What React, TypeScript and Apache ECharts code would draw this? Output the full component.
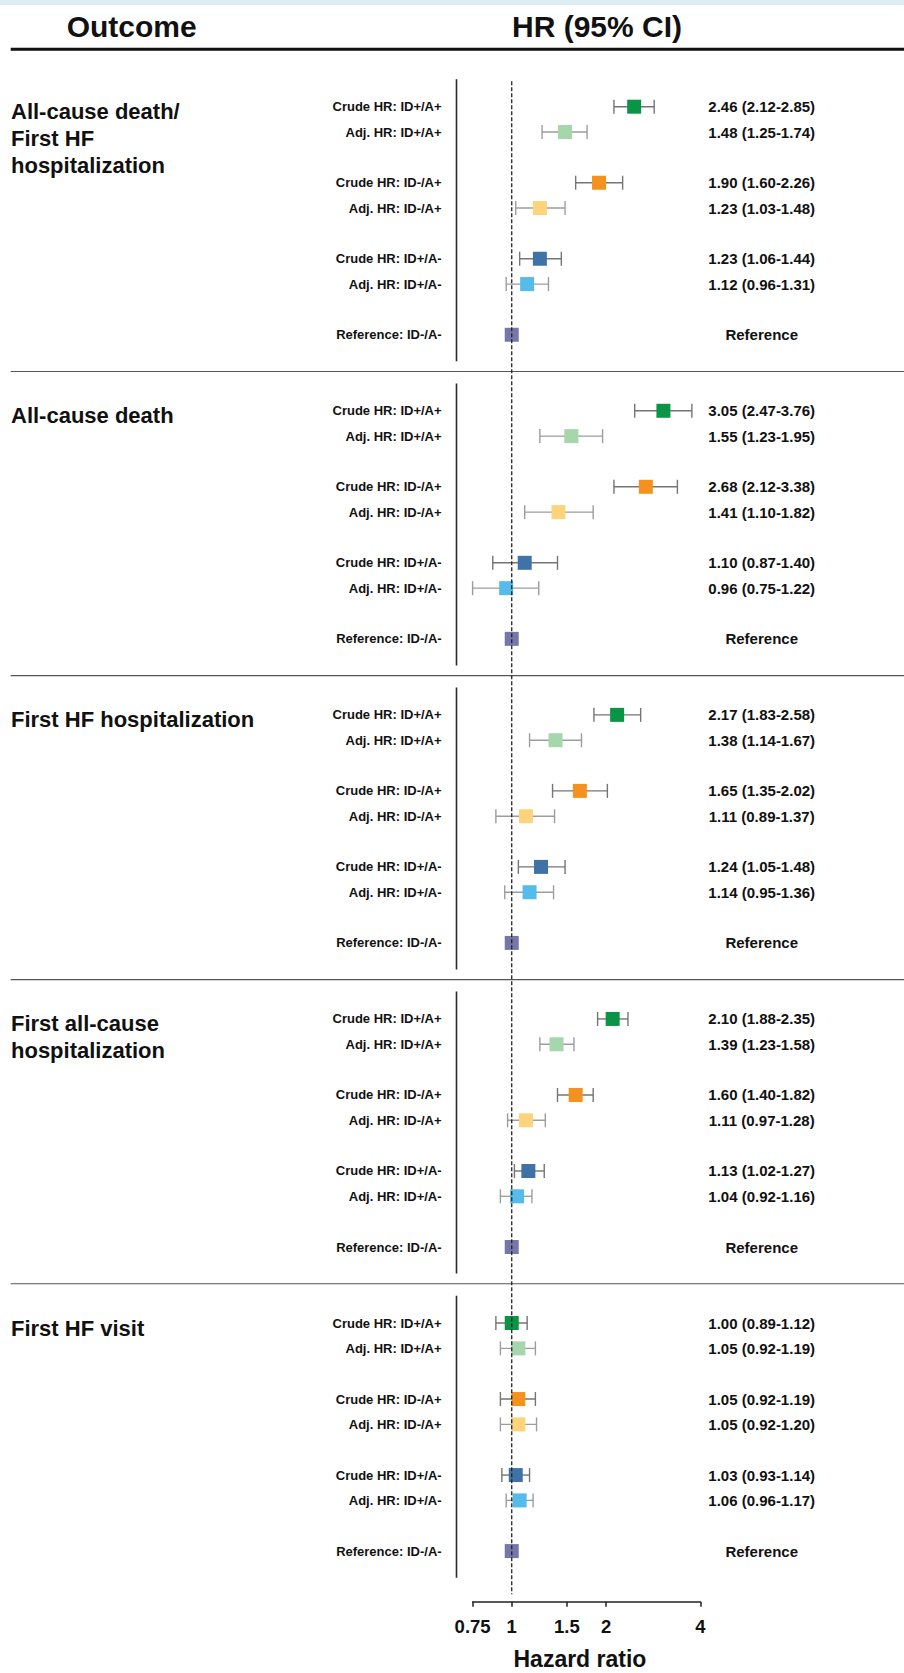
import React, { useEffect, useRef } from "react";
import * as echarts from "echarts";

// ---------- DATA ----------
const outcomes = [
  "All-cause death/\nFirst HF\nhospitalization",
  "All-cause death",
  "First HF hospitalization",
  "First all-cause\nhospitalization",
  "First HF visit",
];

const rowLabels = [
  "Crude HR: ID+/A+",
  "Adj. HR: ID+/A+",
  "Crude HR: ID-/A+",
  "Adj. HR: ID-/A+",
  "Crude HR: ID+/A-",
  "Adj. HR: ID+/A-",
  "Reference: ID-/A-",
];
// slot of each row inside an outcome block (blank slots separate the pairs)
const rowSlots = [0, 1, 3, 4, 6, 7, 9];
const slotsPerOutcome = 12;
const rowIsCrude = [true, false, true, false, true, false, false];

// HR, lower and upper 95% CI for the six comparison rows of each outcome
const hrDeathOrHF = [2.46, 1.48, 1.9, 1.23, 1.23, 1.12];
const loDeathOrHF = [2.12, 1.25, 1.6, 1.03, 1.06, 0.96];
const hiDeathOrHF = [2.85, 1.74, 2.26, 1.48, 1.44, 1.31];

const hrDeath = [3.05, 1.55, 2.68, 1.41, 1.1, 0.96];
const loDeath = [2.47, 1.23, 2.12, 1.1, 0.87, 0.75];
const hiDeath = [3.76, 1.95, 3.38, 1.82, 1.4, 1.22];

const hrHFHosp = [2.17, 1.38, 1.65, 1.11, 1.24, 1.14];
const loHFHosp = [1.83, 1.14, 1.35, 0.89, 1.05, 0.95];
const hiHFHosp = [2.58, 1.67, 2.02, 1.37, 1.48, 1.36];

const hrAllHosp = [2.1, 1.39, 1.6, 1.11, 1.13, 1.04];
const loAllHosp = [1.88, 1.23, 1.4, 0.97, 1.02, 0.92];
const hiAllHosp = [2.35, 1.58, 1.82, 1.28, 1.27, 1.16];

const hrHFVisit = [1.0, 1.05, 1.05, 1.05, 1.03, 1.06];
const loHFVisit = [0.89, 0.92, 0.92, 0.92, 0.93, 0.96];
const hiHFVisit = [1.12, 1.19, 1.19, 1.2, 1.14, 1.17];

const referenceHR = 1;
const referenceText = "Reference";

const xTickValues = [0.75, 1, 1.5, 2, 4];
const xTickLabels = ["0.75", "1", "1.5", "2", "4"];
const xMin = 0.75;
const xMax = 4;

// ---------- STYLE ----------
const rowColors = ["#0a9445", "#a6d6ab", "#f5911f", "#fdd37c", "#3f73a7", "#55bbe9", "#7876a8"];
const FONT = "'Liberation Sans', Arial, Helvetica, sans-serif";
const INK = "#111111";

const GRID_LEFT = 472.6;
const GRID_WIDTH = 227.7;
const UNIT = 25.34;
const Y_MIN = -1;
const Y_MAX = 59;
const GRID_TOP = 106.7 - UNIT;

const estSets = [hrDeathOrHF, hrDeath, hrHFHosp, hrAllHosp, hrHFVisit];
const loSets = [loDeathOrHF, loDeath, loHFHosp, loAllHosp, loHFVisit];
const hiSets = [hiDeathOrHF, hiDeath, hiHFHosp, hiAllHosp, hiHFVisit];

const fmt = (v: number) => v.toFixed(2);

export default function App() {
  const ref = useRef<HTMLDivElement>(null);

  useEffect(() => {
    if (!ref.current) return;
    const chart = echarts.init(ref.current, null, { renderer: "svg" });

    const leftLabelMap: Record<number, string> = {};
    const rightLabelMap: Record<number, string> = {};
    const barData: any[] = [];
    const pointData: any[] = [];

    outcomes.forEach((_, p) => {
      rowLabels.forEach((label, r) => {
        const slot = p * slotsPerOutcome + rowSlots[r];
        leftLabelMap[slot] = label;
        if (r < 6) {
          const est = estSets[p][r];
          const lo = loSets[p][r];
          const hi = hiSets[p][r];
          rightLabelMap[slot] = `${fmt(est)} (${fmt(lo)}-${fmt(hi)})`;
          barData.push([Math.log(lo), Math.log(hi), slot, rowIsCrude[r] ? 1 : 0]);
          pointData.push({ value: [Math.log(est), slot], itemStyle: { color: rowColors[r] } });
        } else {
          rightLabelMap[slot] = referenceText;
          pointData.push({ value: [Math.log(referenceHR), slot], itemStyle: { color: rowColors[r] } });
        }
      });
    });

    const tickLogs = xTickValues.map((v) => Math.log(v));

    const option: any = {
      animation: false,
      backgroundColor: "#ffffff",
      textStyle: { fontFamily: FONT },
      grid: {
        left: GRID_LEFT,
        width: GRID_WIDTH,
        top: GRID_TOP,
        height: (Y_MAX - Y_MIN) * UNIT,
        containLabel: false,
        outerBoundsMode: "none",
      },
      xAxis: {
        type: "value",
        position: "bottom",
        min: Math.log(xMin),
        max: Math.log(xMax),
        axisLine: { show: true, onZero: false, lineStyle: { color: "#222", width: 1.5 } },
        axisTick: { show: true, length: 5, inside: false, customValues: tickLogs, lineStyle: { color: "#222", width: 1.5 } },
        splitLine: { show: false },
        axisLabel: {
          customValues: tickLogs,
          margin: 15,
          fontSize: 18.5,
          fontWeight: "bold",
          fontFamily: FONT,
          color: INK,
          formatter: (v: number) => {
            let best = 0;
            tickLogs.forEach((t, i) => {
              if (Math.abs(t - v) < Math.abs(tickLogs[best] - v)) best = i;
            });
            return xTickLabels[best];
          },
        },
        name: "Hazard ratio",
        nameLocation: "middle",
        nameGap: 46,
        nameTextStyle: { fontSize: 23, fontWeight: "bold", color: INK, fontFamily: FONT, padding: [0, 13, 0, 0] },
      },
      yAxis: [
        {
          type: "value",
          inverse: true,
          position: "left",
          min: Y_MIN,
          max: Y_MAX,
          interval: 1,
          axisLine: { show: false, onZero: false },
          axisTick: { show: false },
          splitLine: { show: false },
          axisLabel: {
            margin: 31,
            fontSize: 13,
            fontWeight: "bold",
            fontFamily: FONT,
            color: INK,
            formatter: (v: number) => leftLabelMap[Math.round(v)] ?? "",
          },
        },
        {
          type: "value",
          inverse: true,
          position: "right",
          min: Y_MIN,
          max: Y_MAX,
          interval: 1,
          axisLine: { show: false, onZero: false },
          axisTick: { show: false },
          splitLine: { show: false },
          axisLabel: {
            margin: 61.4,
            align: "center",
            fontSize: 15,
            fontWeight: "bold",
            fontFamily: FONT,
            color: INK,
            formatter: (v: number) => rightLabelMap[Math.round(v)] ?? "",
          },
        },
      ],
      series: [
        {
          type: "custom",
          name: "95% CI",
          z: 2,
          data: barData,
          encode: { x: [0, 1], y: 2 },
          renderItem: (params: any, api: any) => {
            const a = api.coord([api.value(0), api.value(2)]);
            const b = api.coord([api.value(1), api.value(2)]);
            const cap = 7;
            const stroke = api.value(3) ? "#757575" : "#9d9d9d";
            const style = { stroke, lineWidth: 1.4 };
            return {
              type: "group",
              children: [
                { type: "line", shape: { x1: a[0], y1: a[1], x2: b[0], y2: b[1] }, style },
                { type: "line", shape: { x1: a[0], y1: a[1] - cap, x2: a[0], y2: a[1] + cap }, style },
                { type: "line", shape: { x1: b[0], y1: b[1] - cap, x2: b[0], y2: b[1] + cap }, style },
              ],
            };
          },
        },
        {
          type: "scatter",
          name: "HR",
          z: 3,
          symbol: "rect",
          symbolSize: 14,
          itemStyle: { opacity: 1 },
          data: pointData,
        },
        {
          type: "line",
          name: "HR = 1",
          z: 4,
          symbol: "none",
          silent: true,
          data: [
            [Math.log(referenceHR), Y_MIN],
            [Math.log(referenceHR), Y_MAX - 0.3],
          ],
          lineStyle: { color: "#222", width: 1.3, type: [4, 2] },
        },
      ],
    };

    chart.setOption(option);

    const yPix = (u: number) => chart.convertToPixel({ gridIndex: 0 }, [0, u])[1] as number;
    const vLineX = 456.5;
    const graphics: any[] = [
      { type: "rect", shape: { x: 0, y: 0, width: 904, height: 5 }, style: { fill: "#dcedf3" }, silent: true },
      {
        type: "text",
        x: 131.7,
        y: 26.7,
        style: { text: "Outcome", fontSize: 30, fontWeight: "bold", fontFamily: FONT, fill: INK, align: "center", verticalAlign: "middle", textAlign: "center", textVerticalAlign: "middle" },
      },
      {
        type: "text",
        x: 597,
        y: 26.7,
        style: { text: "HR (95% CI)", fontSize: 30, fontWeight: "bold", fontFamily: FONT, fill: INK, align: "center", verticalAlign: "middle", textAlign: "center", textVerticalAlign: "middle" },
      },
      { type: "line", shape: { x1: 10.7, y1: 49.2, x2: 904, y2: 49.2 }, style: { stroke: "#111", lineWidth: 3 } },
    ];

    outcomes.forEach((title, p) => {
      const base = p * slotsPerOutcome;
      graphics.push({
        type: "text",
        x: 11,
        y: yPix(base) + 5 - 13.5,
        style: {
          text: title,
          fontSize: 22,
          fontWeight: "bold",
          fontFamily: FONT,
          fill: INK,
          lineHeight: 27,
          align: "left",
          verticalAlign: "top",
          textAlign: "left",
          textVerticalAlign: "top",
        },
      });
      graphics.push({
        type: "line",
        shape: { x1: vLineX, y1: yPix(base - 1.08), x2: vLineX, y2: yPix(base + 10.05) },
        style: { stroke: "#2a2a2a", lineWidth: 1.6 },
      });
      if (p < outcomes.length - 1) {
        const ys = yPix(base + 10.45);
        graphics.push({
          type: "line",
          shape: { x1: 10.7, y1: ys, x2: 904, y2: ys },
          style: { stroke: "#555", lineWidth: 1.2 },
        });
      }
    });

    chart.setOption({ graphic: graphics });

    return () => {
      chart.dispose();
    };
  }, []);

  return (
    <div
      ref={ref}
      style={{ position: "absolute", left: 0, top: 0, width: 904, height: 1673, background: "#fff" }}
    />
  );
}
